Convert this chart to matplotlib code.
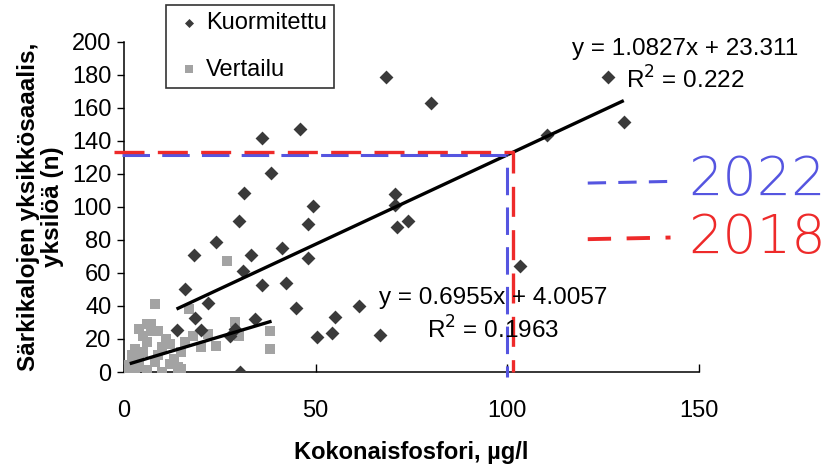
import matplotlib
matplotlib.use("Agg")
import matplotlib.pyplot as plt
import numpy as np

plt.rcParams['font.family'] = ['Liberation Sans', 'DejaVu Sans']

# Kuormitettu (loaded lakes)
kuorm_x = [13.9, 15.9, 18.3, 18.4, 20.0, 22.0, 23.9, 27.7, 29.0, 30.0, 30.3, 31.0, 31.2,
           33.1, 34.2, 35.9, 35.9, 38.4, 41.2, 42.2, 45.0, 46.0, 48.1, 48.1, 49.4, 50.3,
           54.2, 55.1, 61.2, 66.8, 68.4, 70.6, 70.6, 71.2, 74.2, 80.0, 103.4, 110.3,
           126.4, 130.4]
kuorm_y = [25.5, 50.0, 71.0, 33.0, 25.5, 41.6, 79.0, 22.0, 26.0, 91.5, 0.0, 61.0, 108.7,
           71.0, 32.0, 142.0, 53.0, 120.4, 75.0, 54.0, 39.0, 147.0, 69.0, 89.5, 100.8, 21.4,
           23.4, 33.5, 40.2, 22.4, 179.0, 108.0, 101.0, 88.0, 91.5, 163.0, 64.0, 143.6,
           178.6, 151.7]

# Vertailu (reference lakes)
vert_x = [1, 2, 3, 4, 5, 6, 7, 8, 7, 5, 3, 2, 4, 6, 8, 9, 10, 11, 12, 13, 14, 15, 15,
          16, 17, 18, 20, 22, 24, 27, 29, 30, 38, 38, 10, 12, 9, 3, 1, 6, 4, 14]
vert_y = [0, 2, 5, 8, 12, 18, 25, 41, 29, 22, 14, 10, 3, 1, 6, 10, 15, 20, 17, 8, 3, 2, 12,
          18, 38, 22, 15, 23, 16, 67, 30, 22, 25, 14, 0, 5, 25, 0, 4, 29, 26, 0]

# Trend lines (from chart)
fit1_slope, fit1_icpt, fit1_range = 1.0827, 23.311, (13.7, 130.4)
fit2_slope, fit2_icpt, fit2_range = 0.6955, 4.0057, (1.5, 38.5)

# Hand-drawn marks
mark_2022 = (100.0, 131.6)
mark_2018 = (101.5, 133.2)

fig = plt.figure(figsize=(8.35, 4.65), dpi=100)
ax = fig.add_axes([0.1485, 0.2, 0.6885, 0.7097])

ax.scatter(vert_x, vert_y, marker='s', s=62, color='#a3a3a3', linewidths=0, zorder=3,
           label='Vertailu')
ax.scatter(kuorm_x, kuorm_y, marker='D', s=50, color='#3a3a3a', linewidths=0, zorder=4,
           label='Kuormitettu')

for slope, icpt, rng in [(fit1_slope, fit1_icpt, fit1_range), (fit2_slope, fit2_icpt, fit2_range)]:
    xs = np.array(rng)
    ax.plot(xs, slope * xs + icpt, color='black', lw=2.4, zorder=5, solid_capstyle='butt')

# hand-drawn dashed guide lines
blue = '#5555e0'
red = '#ee2a2a'
ax.plot([-0.5, mark_2022[0], mark_2022[0]], [mark_2022[1], mark_2022[1], -3],
        color=blue, lw=2.2, dashes=(9, 4), zorder=6, clip_on=False)
ax.plot([-2.5, mark_2018[0], mark_2018[0]], [mark_2018[1], mark_2018[1], 0],
        color=red, lw=2.4, dashes=(9, 4), zorder=6, clip_on=False)

ax.plot([121, 142.6], [114.5, 115.5], color=blue, lw=2.2, dashes=(6, 4), clip_on=False)
ax.plot([121, 142.6], [80.5, 81.5], color=red, lw=2.8, dashes=(6, 4), clip_on=False)
ax.text(147.3, 116, '2022', color=blue, fontsize=39, va='center', ha='left',
        family=['DejaVu Sans'], fontweight='light', clip_on=False)
ax.text(147.3, 81, '2018', color=red, fontsize=39, va='center', ha='left',
        family=['DejaVu Sans'], fontweight='light', clip_on=False)

# equations
ax.text(146.5, 196, 'y = 1.0827x + 23.311', fontsize=17.5, ha='center', va='center', clip_on=False)
ax.text(146.5, 177, 'R$^2$ = 0.222', fontsize=17.5, ha='center', va='center', clip_on=False)
ax.text(96.3, 45, 'y = 0.6955x + 4.0057', fontsize=17.5, ha='center', va='center', zorder=7)
ax.text(96.3, 25.5, 'R$^2$ = 0.1963', fontsize=17.5, ha='center', va='center', zorder=7)

ax.set_xlim(0, 150)
ax.set_ylim(0, 200)
ax.set_xticks([0, 50, 100, 150])
ax.set_yticks(range(0, 201, 20))
ax.tick_params(axis='x', direction='in', length=6, labelsize=17, pad=20, width=1)
ax.tick_params(axis='y', direction='out', length=5, labelsize=17, pad=4, width=1)
for s in ['top', 'right']:
    ax.spines[s].set_visible(False)
for s in ['left', 'bottom']:
    ax.spines[s].set_linewidth(1.1)

ax.set_xlabel('Kokonaisfosfori, µg/l', fontsize=17, fontweight='bold', labelpad=14)
ax.set_ylabel('Särkikalojen yksikkösaaalis,\nyksilöä (n)', fontsize=17.5, fontweight='bold',
              labelpad=6, linespacing=1.05)

handles, labels = ax.get_legend_handles_labels()
leg = fig.legend(handles[::-1], labels[::-1], loc='upper left', bbox_to_anchor=(0.199, 0.99),
                 fontsize=17, frameon=True, fancybox=False, edgecolor='black',
                 handletextpad=0.1, handlelength=1.3, labelspacing=1.05, borderpad=0.3,
                 borderaxespad=0, markerscale=0.65)
leg.get_frame().set_linewidth(1.2)

fig.savefig('out.png', dpi=100)
